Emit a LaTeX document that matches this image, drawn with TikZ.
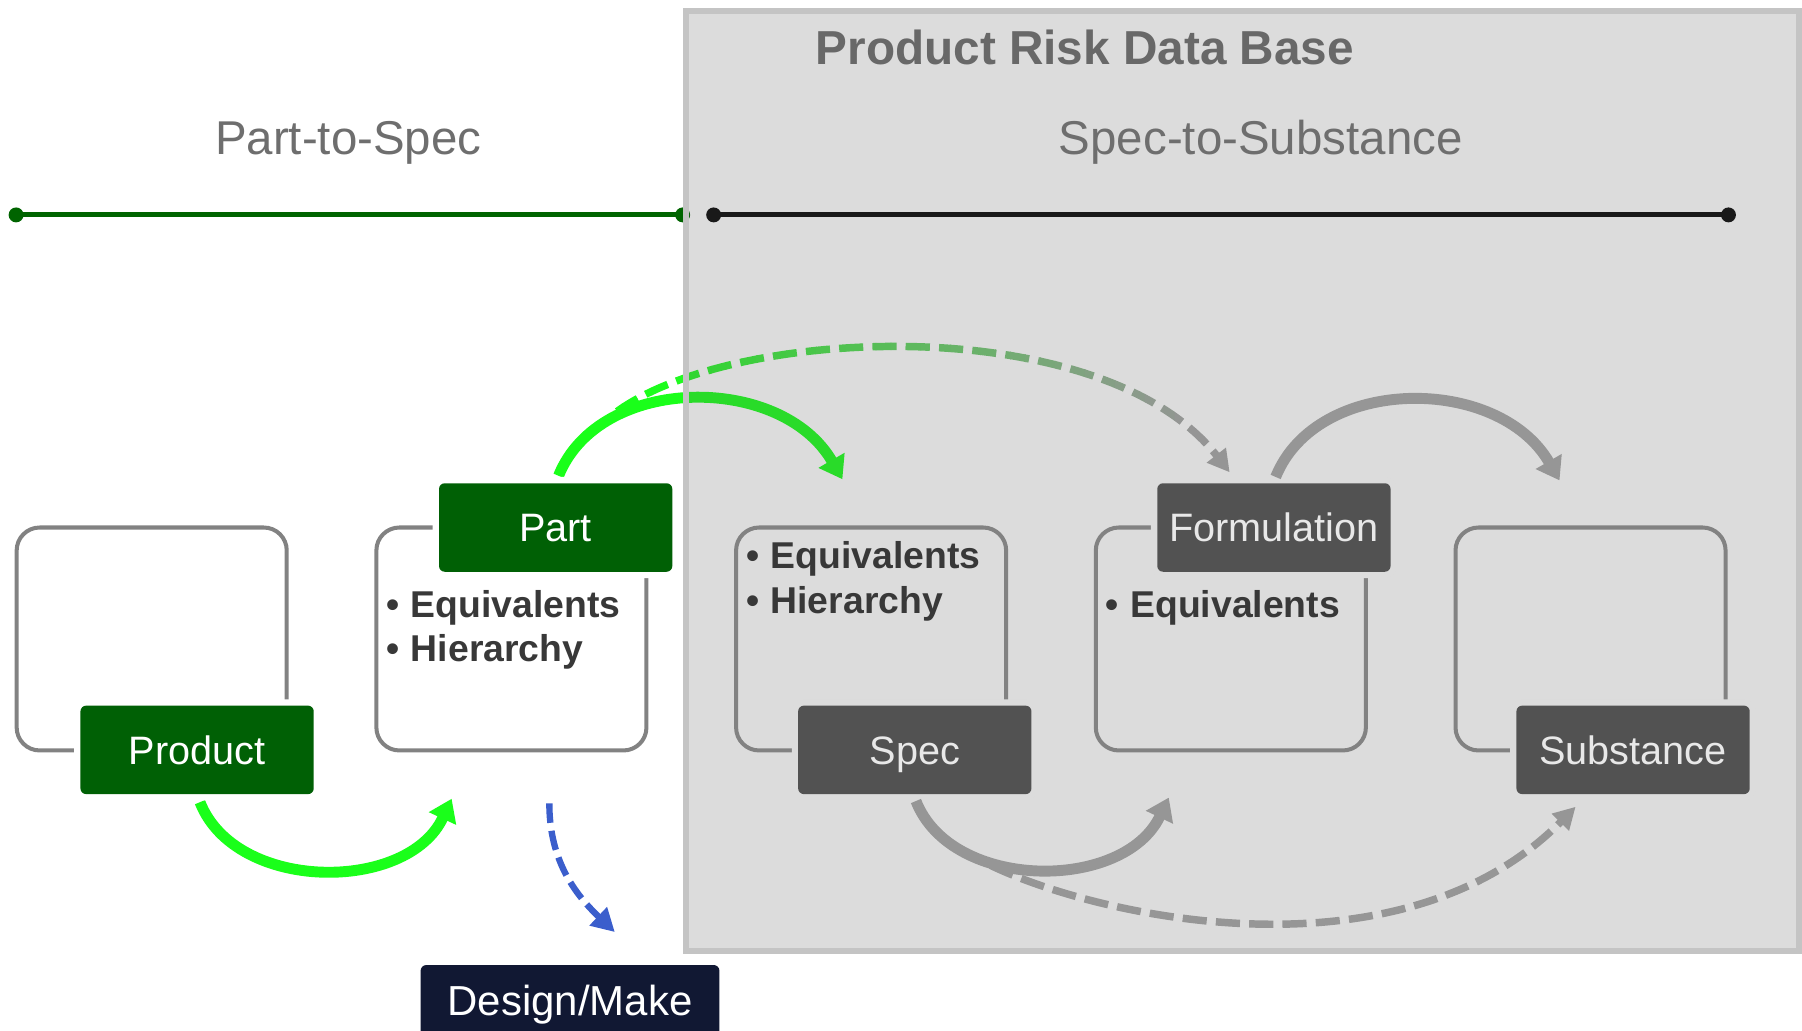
\documentclass[tikz,border=0pt]{standalone}
\usepackage{fontspec}
\setmainfont{Liberation Sans}
\usetikzlibrary{arrows.meta}

\definecolor{pgreen}{RGB}{0,96,5}
\definecolor{lgreen}{RGB}{0,100,0}
\definecolor{bgreen}{RGB}{26,255,26}
\definecolor{dgray}{RGB}{82,82,82}
\definecolor{agray}{RGB}{150,150,150}
\definecolor{pregray}{RGB}{165,165,165}
\definecolor{ogray}{RGB}{130,130,130}
\definecolor{panelborder}{RGB}{196,196,196}
\definecolor{panelfill}{RGB}{95,95,95}
\definecolor{paneltone}{RGB}{220,220,220}
\definecolor{titlegray}{RGB}{104,104,104}
\definecolor{subgray}{RGB}{110,110,110}
\definecolor{bullettext}{RGB}{56,56,56}
\definecolor{navy}{RGB}{17,24,51}
\definecolor{ablue}{RGB}{59,94,204}
\definecolor{labeltext}{RGB}{232,232,232}

\begin{document}
\begin{tikzpicture}[x=1pt,y=-1pt,
  dotnode/.style={circle, inner sep=0pt, minimum size=13pt},
  outlinebox/.style={draw=ogray, line width=3.5pt, rounded corners=20pt,
    minimum width=235pt, minimum height=194pt, inner sep=0pt},
  labelbase/.style={rounded corners=5pt, minimum width=203pt, minimum height=77pt,
    inner sep=0pt, text height=24.7pt, text depth=0pt,
    font=\fontsize{34.5}{40}\selectfont},
  greenlabel/.style={labelbase, fill=pgreen, text=white,
    preaction={draw=white, line width=11pt}},
  graylabel/.style={labelbase, fill=dgray, text=labeltext,
    preaction={draw=paneltone, line width=11pt}},
  bullet/.style={anchor=base west, inner sep=0pt, text=bullettext,
    font=\bfseries\fontsize{32.5}{38}\selectfont},
  subtitle/.style={anchor=base, inner sep=0pt, text=subgray,
    font=\fontsize{41.3}{48}\selectfont},
  solidgreen/.style={draw=bgreen, line width=9.5pt,
    -{Triangle[length=19pt,width=25pt]}},
  solidgray/.style={draw=agray, line width=9.5pt,
    -{Triangle[length=19pt,width=25pt]}},
  dashedarrow/.style={line width=6.5pt, dash pattern=on 21pt off 8pt,
    -{Triangle[length=19pt,width=20pt]}},
  bluearrow/.style={draw=ablue, line width=5.5pt, dash pattern=on 17pt off 7pt,
    -{Triangle[length=20pt,width=21pt]}}
]
\useasboundingbox (0,0) rectangle (1568,897);

% ---- green timeline (under the panel)
\node[dotnode, fill=lgreen] (gl) at (14,187) {};
\node[dotnode, fill=lgreen] (gr) at (594,187) {};
\draw[lgreen, line width=4.5pt] (gl.center) -- (gr.center);

% ---- green arrows (under the panel overlay)
\coordinate (a1s) at (174,698);
\coordinate (a1e) at (393,695);
\draw[solidgreen] (a1s) .. controls (205,777) and (355,777) .. (a1e);

\coordinate (a2s) at (486,414);
\coordinate (a2e) at (733,417);
\draw[solidgreen] (a2s) .. controls (522,325) and (680,325) .. (a2e);

% ---- top dashed arrow with green-to-gray gradient
\coordinate (tds) at (537,358);
\coordinate (tde) at (1070,411);
\foreach \i in {0,...,43} {
  \pgfmathsetmacro\xa{528+\i*13}
  \pgfmathsetmacro\xb{\xa+13.6}
  \pgfmathtruncatemacro\pct{min(100,max(0,(\xa+6.5-560)/(1030-560)*100))}
  \begin{scope}
    \clip (\xa,240) rectangle (\xb,450);
    \draw[dashedarrow, draw=pregray!\pct!bgreen] (tds) .. controls (640,283) and (960,270) .. (tde);
  \end{scope}
}

% ---- panel
\node[draw=panelborder, line width=5.5pt, fill=panelfill, fill opacity=0.22,
  minimum width=969pt, minimum height=818pt, inner sep=0pt, anchor=north west]
  (panel) at (594,7) {};

% ---- black timeline
\node[dotnode, fill=black!90] (bl) at (621,187) {};
\node[dotnode, fill=black!90] (br) at (1504,187) {};
\draw[black!90, line width=4.5pt] (bl.center) -- (br.center);

% ---- titles
\node[anchor=base, inner sep=0pt, text=titlegray,
  font=\bfseries\fontsize{41.5}{50}\selectfont] (title) at (944,56) {Product Risk Data Base};
\node[subtitle] (p2s) at (303,134) {Part-to-Spec};
\node[subtitle] (s2s) at (1097,134) {Spec-to-Substance};

% ---- outline boxes
\node[outlinebox] (box1) at (132,556) {};
\node[outlinebox] (box2) at (445,556) {};
\node[outlinebox] (box3) at (758,556) {};
\node[outlinebox] (box4) at (1071,556) {};
\node[outlinebox] (box5) at (1384,556) {};

% ---- labels
\node[greenlabel] (product) at (171.5,652.5) {Product};
\node[greenlabel] (part) at (483.5,459) {Part};
\node[graylabel] (spec) at (796,652.5) {Spec};
\node[graylabel] (formulation) at (1108.5,459) {Formulation};
\node[graylabel] (substance) at (1421,652.5) {Substance};

% ---- bullet texts
\node[bullet] (b2a) at (336,537) {\textbullet\hspace{10pt}Equivalents};
\node[bullet] (b2b) at (336,576) {\textbullet\hspace{10pt}Hierarchy};
\node[bullet] (b3a) at (649,495) {\textbullet\hspace{10pt}Equivalents};
\node[bullet] (b3b) at (649,534) {\textbullet\hspace{10pt}Hierarchy};
\node[bullet] (b4a) at (962,537) {\textbullet\hspace{10pt}Equivalents};

% ---- gray arrows
\coordinate (a3s) at (797,697);
\coordinate (a3e) at (1017,694);
\draw[solidgray] (a3s) .. controls (828,776) and (978,776) .. (a3e);

\coordinate (a4s) at (1110,415);
\coordinate (a4e) at (1357,418);
\draw[solidgray] (a4s) .. controls (1146,326) and (1304,326) .. (a4e);

\coordinate (bds) at (862,753);
\coordinate (bde) at (1371,702);
\draw[dashedarrow, draw=agray] (bds) .. controls (960,800) and (1220,855) .. (bde);

% ---- design/make
\node[rounded corners=5pt, fill=navy, text=white, minimum width=260pt,
  minimum height=68.4pt, inner sep=0pt, text height=26.2pt, text depth=0pt,
  font=\fontsize{36.5}{42}\selectfont, anchor=north] (design) at (496,839.5) {};
\node[inner sep=0pt, text=white, anchor=base,
  font=\fontsize{36.5}{42}\selectfont] (designtext) at (496,884) {Design/Make};

\coordinate (bls) at (478,699);
\coordinate (ble) at (535,811);
\draw[bluearrow] (bls) .. controls (478,745) and (497,775) .. (ble);
\end{tikzpicture}
\end{document}
